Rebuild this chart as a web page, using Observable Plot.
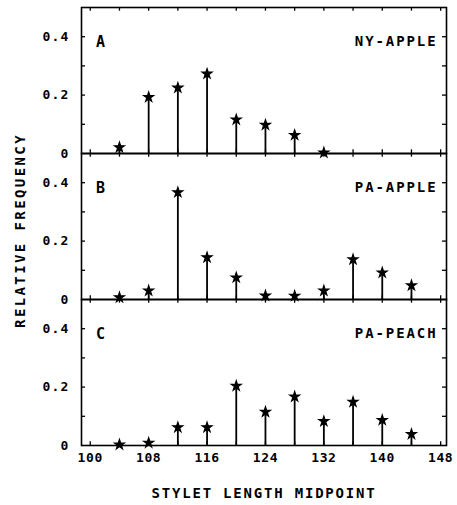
<!DOCTYPE html>
<html><head><meta charset="utf-8">
<script src="https://cdn.jsdelivr.net/npm/d3@7"></script>
<script src="https://cdn.jsdelivr.net/npm/@observablehq/plot@0.6"></script>
<style>body{margin:0;background:#fff}</style>
</head><body><div id="chart"></div>
<script>
const midpoints = [104,108,112,116,120,124,128,132,136,140,144];
const nyApple = [0.021,0.193,0.225,0.273,0.116,0.098,0.063,0.003,null,null,null];
const paApple = [0.007,0.030,0.367,0.144,0.075,0.013,0.012,0.030,0.137,0.092,0.048];
const paPeach = [0.003,0.009,0.062,0.062,0.204,0.115,0.167,0.083,0.149,0.087,0.039];
const panels = ["A","B","C"];
const panelNames = ["NY-APPLE","PA-APPLE","PA-PEACH"];
const xTicks = [100,104,108,112,116,120,124,128,132,136,140,144,148];
const xTickLabels = [100,108,116,124,132,140,148];
const yTicks = [0.1,0.2,0.3,0.4];
const yTickLabels = [0,0.2,0.4];
const xLabel = "STYLET LENGTH MIDPOINT";
const yLabel = "RELATIVE FREQUENCY";

const series = [nyApple, paApple, paPeach];
const data = [];
series.forEach((vals, i) => vals.forEach((v, j) => {
  if (v != null) data.push({panel: panels[i], x: midpoints[j], y: v});
}));
const panelData = panels.map((p, i) => ({panel: p, name: panelNames[i]}));

const W = 457, H = 505, mT = 6, mB = 60, mL = 81, mR = 11;
const fh = (H - mT - mB) / 3;
const pw = W - mL - mR;
const tk = 4;
const font = "'DejaVu Sans Mono', monospace";

const chart = Plot.plot({
  width: W, height: H,
  marginTop: mT, marginBottom: mB, marginLeft: mL, marginRight: mR,
  style: {fontFamily: font, fontSize: "13px", fontWeight: "bold", background: "#fff", color: "#000"},
  x: {domain: [98.8, 148.8]},
  y: {domain: [0, 0.5]},
  fy: {domain: panels, padding: 0, axis: null},
  marks: [
    Plot.frame({stroke: "#000", strokeWidth: 1.6}),
    Plot.tickY(yTicks, {y: d => d, insetRight: pw - tk, stroke: "#000", strokeWidth: 1.3}),
    Plot.tickY(yTicks, {y: d => d, insetLeft: pw - tk, stroke: "#000", strokeWidth: 1.3}),
    Plot.tickX(xTicks, {x: d => d, insetBottom: fh - tk, stroke: "#000", strokeWidth: 1.3}),
    Plot.tickX(xTicks, {x: d => d, insetTop: fh - tk, stroke: "#000", strokeWidth: 1.3}),
    Plot.ruleX(data, {x: "x", y1: 0, y2: "y", fy: "panel", stroke: "#000", strokeWidth: 1.8}),
    Plot.dot(data, {x: "x", y: "y", fy: "panel", symbol: "star", r: 3.1, fill: "#000", stroke: "#000", strokeWidth: 1.2}),
    Plot.axisY({ticks: yTickLabels, tickSize: 0, tickPadding: 12, label: null,
      tickFormat: d => d === 0 ? "0" : d.toFixed(1), fontSize: 13}),
    Plot.axisX({ticks: xTickLabels, tickSize: 0, tickPadding: 7, label: xLabel,
      labelAnchor: "center", labelOffset: 52, labelArrow: "none", fontSize: 13}),
    Plot.text(panelData, {fy: "panel", text: "panel", frameAnchor: "top-left", dx: 20, dy: 29,
      fontSize: 15, textAnchor: "middle"}),
    Plot.text(panelData, {fy: "panel", text: "name", frameAnchor: "top-right", dx: -9, dy: 29,
      fontSize: 14, textAnchor: "end"}),
    Plot.text(panelData.filter(d => d.panel === "B"), {fy: "panel", text: () => yLabel,
      frameAnchor: "left", dx: -61, dy: 4, rotate: -90, fontSize: 14, textAnchor: "middle"})
  ]
});
const svg = d3.select(chart);
svg.selectAll("text").style("letter-spacing", "0.6px");
svg.selectAll('g[aria-label="text"] text').style("letter-spacing", "1.9px");
svg.selectAll('g[aria-label="text"]:last-of-type text').style("letter-spacing", "2.4px");
svg.selectAll('g[aria-label="x-axis label"] text').style("letter-spacing", "1.8px").style("font-size", "14px");
svg.selectAll('g[aria-label="y-axis tick label"] text').style("letter-spacing", "1.2px");
document.getElementById("chart").appendChild(chart);
</script>
</body></html>
